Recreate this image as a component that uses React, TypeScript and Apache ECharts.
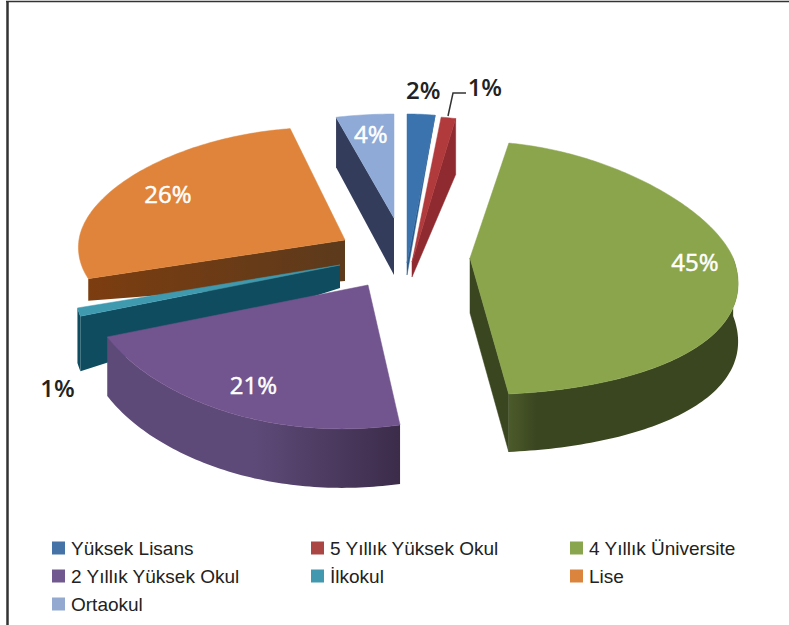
import React, { useEffect, useRef } from "react";
import * as echarts from "echarts";

const names = ["Yüksek Lisans", "5 Yıllık Yüksek Okul", "4 Yıllık Üniversite", "2 Yıllık Yüksek Okul", "İlkokul", "Lise", "Ortaokul"];
const values = [2, 1, 45, 21, 1, 26, 4];
const topColors = ["#3A73AE", "#B03A3C", "#8BA54C", "#72548E", "#3F9AB0", "#DF843A", "#8FAAD6"];
const sideStart = ["#2A5C8C", "#8E2A30", "#4C5B2A", "#5E4A78", "#0F4C5F", "#7C3D10", "#333C5A"];
const sideEnd = ["#2A5C8C", "#8E2A30", "#3A4620", "#3C2C4A", "#0F4C5F", "#5C3A1C", "#333C5A"];
const legendColors = ["#4573A7", "#AA4643", "#89A54E", "#71588F", "#4198AF", "#DB843D", "#93A9CF"];
const paintOrder = [6, 0, 1, 5, 4, 2, 3];
const centre = [408, 262];
// Per-slice projection of the exploded 3D pie
const perspective = [0.2, 0.2, 0.2, -0.134, 0.2, 0.15, 0.2];
const bulge = [0, 0, 0.02, 0.05, 0, 0.055, 0];
const explodeX = [-1, 4, 62, -40, -68, -63, -14];
const explodeY = [1, 0, -4, 23, 3, -22, -44];
const radiusX = [280, 290, 258, 295, 260, 258, 289];
const radiusBack = [149, 146, 117, 117, 117, 115, 104];
const radiusFront = [130, 130, 137, 141, 139, 125, 130];
const heightApex = [12, 15, 55, 58, 23, 41, 57];
const heightRim = [0, 56, 58, 59, 55, 22, 50];
const showRim = [false, false, true, true, true, false, false];
const labelRadius = [1.15, 1.15, 0.85, 0.8, 1.2, 0.8, 0.8];
const labelShiftX = [0, 31, 0, -3, 31, 0, 0];
const labelShiftY = [-2, -10, 0, -2, 66, 0, -2];
const legendColumns = [[0, 3, 6], [1, 4], [2, 5]];
const legendLeft = [52, 311, 570];

const total = values.reduce((a, b) => a + b, 0);
const startDeg = values.map((_, i) => (values.slice(0, i).reduce((a, b) => a + b, 0) / total) * 360);
const spanDeg = values.map((v) => (v / total) * 360);

function project(i: number, deg: number, r = 1) {
  const t = (deg * Math.PI) / 180;
  const s = Math.sin(t), c = Math.cos(t);
  const ax = centre[0] + explodeX[i], ay = centre[1] + explodeY[i];
  const ry = c > 0 ? radiusBack[i] : radiusFront[i];
  const rr = r * (1 + bulge[i] * Math.sin((Math.PI * (deg - startDeg[i])) / spanDeg[i]));
  return [ax + rr * radiusX[i] * s * (1 - perspective[i] * c), ay - rr * ry * c];
}
function lower(i: number, p: number[], r: number) {
  return [p[0], p[1] + heightApex[i] + (heightRim[i] - heightApex[i]) * r];
}

function makeRenderItem(i: number) {
  return (_params: any, api: any) => {
    const value = api.value(0);
    const a0 = startDeg[i];
    const a1 = a0 + (value / total) * 360;
    const apex = project(i, a0, 0);
    const children: any[] = [];
    const flat = { fill: sideEnd[i], stroke: sideEnd[i], lineWidth: 0.5 };
    const p0 = project(i, a0), p1 = project(i, a1);
    if (p0[0] < apex[0]) {
      const startFill = {
        type: "linear", x: 1, y: 0, x2: 0, y2: 0,
        colorStops: [{ offset: 0, color: sideEnd[i] }, { offset: 1, color: sideStart[i] }],
      };
      children.push({ type: "polygon", shape: { points: [apex, p0, lower(i, p0, 1), lower(i, apex, 0)] }, style: { fill: startFill } });
    }
    if (p1[0] > apex[0]) {
      children.push({ type: "polygon", shape: { points: [apex, p1, lower(i, p1, 1), lower(i, apex, 0)] }, style: flat });
    }
    const f0 = Math.max(a0, 90), f1 = Math.min(a1, 270);
    if (showRim[i] && f1 > f0) {
      const upper: number[][] = [];
      const n = Math.max(2, Math.ceil(f1 - f0));
      for (let k = 0; k <= n; k++) upper.push(project(i, f0 + ((f1 - f0) * k) / n));
      const bottom = upper.map((p) => lower(i, p, 1)).reverse();
      const fill = {
        type: "linear", x: 0, y: 0, x2: 1, y2: 0,
        colorStops: i === 2
          ? [{ offset: 0, color: sideStart[i] }, { offset: 0.12, color: sideEnd[i] }, { offset: 1, color: sideEnd[i] }]
          : [{ offset: 0, color: sideStart[i] }, { offset: 0.5, color: sideStart[i] }, { offset: 1, color: sideEnd[i] }],
      };
      children.push({ type: "polygon", shape: { points: [...upper, ...bottom] }, style: { fill } });
    }
    const arc: number[][] = [apex];
    const n = Math.max(2, Math.ceil(a1 - a0));
    for (let k = 0; k <= n; k++) arc.push(project(i, a0 + ((a1 - a0) * k) / n));
    children.push({ type: "polygon", shape: { points: arc }, style: { fill: topColors[i], stroke: topColors[i], lineWidth: 0.5 } });
    const lp = project(i, (a0 + a1) / 2, labelRadius[i]);
    const outside = labelRadius[i] > 1;
    children.push({
      type: "text",
      x: lp[0] + labelShiftX[i],
      y: lp[1] + labelShiftY[i],
      style: {
        text: `${value}%`,
        fill: outside ? "#222222" : "#FFFFFF",
        stroke: outside ? "transparent" : "#FFFFFF",
        lineWidth: outside ? 0 : 0.5,
        font: `${outside ? 600 : 500} 24px "Open Sans"`,
        align: "center",
        verticalAlign: "middle",
      },
    });
    return { type: "group", children };
  };
}

export default function App() {
  const ref = useRef<HTMLDivElement>(null);
  useEffect(() => {
    const chart = echarts.init(ref.current!, undefined, { renderer: "svg" });
    chart.setOption({
      animation: false,
      backgroundColor: "#FFFFFF",
      legend: legendColumns.map((col, c) => ({
        orient: "vertical",
        left: legendLeft[c],
        top: 537,
        padding: 0,
        itemGap: 6,
        itemWidth: 13,
        itemHeight: 13,
        icon: "rect",
        selectedMode: false,
        data: col.map((i) => ({ name: names[i], itemStyle: { color: legendColors[i] } })),
        textStyle: { fontFamily: "Liberation Sans", fontSize: 19, color: "#222222", lineHeight: 22, padding: [0, 0, 0, 1] },
      })),
      series: paintOrder.map((i) => ({
        type: "custom",
        name: names[i],
        coordinateSystem: "none",
        clip: false,
        silent: true,
        itemStyle: { color: legendColors[i] },
        data: [[values[i]]],
        renderItem: makeRenderItem(i),
      })),
      graphic: [
        { type: "line", shape: { x1: 7.5, y1: 1.5, x2: 7.5, y2: 625 }, style: { stroke: "#333333", lineWidth: 2.5 } },
        { type: "line", shape: { x1: 6, y1: 1.5, x2: 789, y2: 1.5 }, style: { stroke: "#333333", lineWidth: 1.5 } },
        { type: "polyline", shape: { points: [[448, 116], [453, 93], [466, 93]] }, style: { stroke: "#333333", lineWidth: 1.5, fill: "none" } },
      ],
    });
    return () => chart.dispose();
  }, []);
  return <div ref={ref} style={{ position: "fixed", left: 0, top: 0, width: 789, height: 625 }} />;
}
